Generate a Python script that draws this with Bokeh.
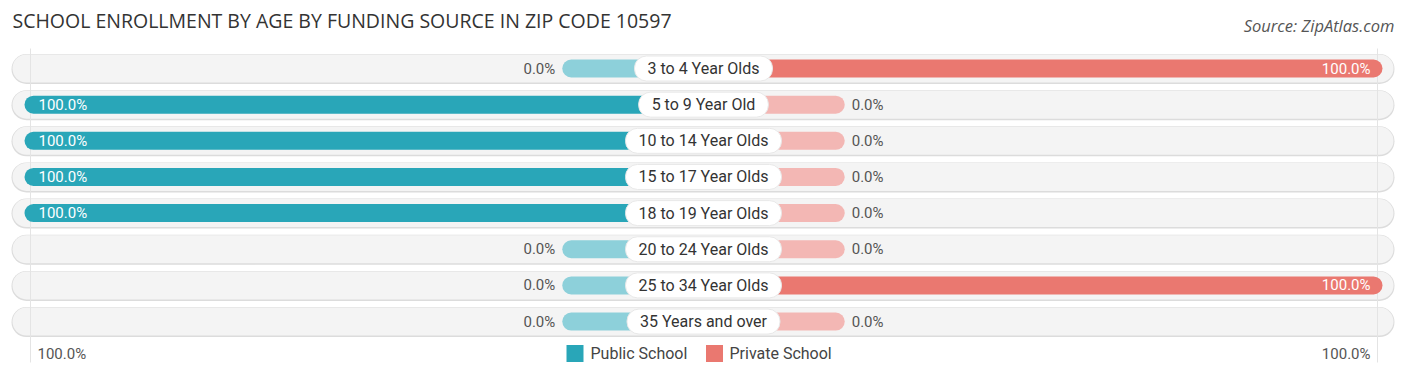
from bokeh.plotting import figure
from bokeh.models import Range1d, ColumnDataSource
from bokeh.core.properties import value
from bokeh.embed import file_html
from bokeh.resources import INLINE

# ---------------- data ----------------
categories = ["3 to 4 Year Olds", "5 to 9 Year Old", "10 to 14 Year Olds",
              "15 to 17 Year Olds", "18 to 19 Year Olds", "20 to 24 Year Olds",
              "25 to 34 Year Olds", "35 Years and over"]
public_school = [0.0, 100.0, 100.0, 100.0, 100.0, 0.0, 0.0, 0.0]
private_school = [100.0, 0.0, 0.0, 0.0, 0.0, 0.0, 100.0, 0.0]
title_text = "SCHOOL ENROLLMENT BY AGE BY FUNDING SOURCE IN ZIP CODE 10597"
source_text = "Source: ZipAtlas.com"
legend_labels = ["Public School", "Private School"]
axis_label = "100.0%"

# ---------------- style / layout ----------------
W, H = 1406, 377
CENTER_PX = 703.0          # px of the zero line
PX_PER_PCT = 6.79          # pixels per percent
STUB = 20.8                # minimal display length for zero values (%)
PUB_DARK, PUB_LIGHT = "#29a6b8", "#8dd0da"
PRI_DARK, PRI_LIGHT = "#ea7870", "#f3b7b4"
FONT = "Roboto"
TFONT = "Open Sans"
ROW0, ROW_STEP = 68.0, 36.15
BAR_W, TRACK_W = 18, 28


def px2x(px):
    return (px - CENTER_PX) / PX_PER_PCT


def pxlen(px):
    return px / PX_PER_PCT


p = figure(width=W, height=H, x_range=Range1d(px2x(0), px2x(W)), y_range=Range1d(H, 0),
           output_backend="svg", toolbar_location=None, min_border=0)
p.axis.visible = False
p.grid.visible = False
p.outline_line_color = None
p.background_fill_color = "white"
p.border_fill_color = "white"

n = len(categories)
ys = [ROW0 + i * ROW_STEP for i in range(n)]

# tracks
tl, tr = px2x(12 + TRACK_W / 2), px2x(1393 - TRACK_W / 2)
p.segment(x0=[tl] * n, x1=[tr] * n, y0=[y + 0.5 for y in ys], y1=[y + 0.5 for y in ys],
          line_width=TRACK_W + 2, line_color="#dcdcdc", line_cap="round")
p.segment(x0=[tl] * n, x1=[tr] * n, y0=ys, y1=ys, line_width=TRACK_W,
          line_color="#f4f4f4", line_cap="round")

# faint grid lines
for gx in (px2x(30), px2x(1377)):
    p.segment(x0=[gx], x1=[gx], y0=[48], y1=[362], line_color="#e4e4e4", line_width=1)

cap = pxlen(BAR_W / 2)
pub_disp = [max(v, STUB) for v in public_school]
pri_disp = [max(v, STUB) for v in private_school]
pub_col = [PUB_DARK if v > 0 else PUB_LIGHT for v in public_school]
pri_col = [PRI_DARK if v > 0 else PRI_LIGHT for v in private_school]

src = ColumnDataSource(dict(
    y=ys, cat=categories,
    pub_end=[-d + cap for d in pub_disp], pri_end=[d - cap for d in pri_disp],
    zero=[0.0] * n, pub_col=pub_col, pri_col=pri_col,
))
p.segment(x0="zero", x1="pub_end", y0="y", y1="y", line_width=BAR_W,
          line_color="pub_col", line_cap="round", source=src)
p.segment(x0="zero", x1="pri_end", y0="y", y1="y", line_width=BAR_W,
          line_color="pri_col", line_cap="round", source=src)

# value labels
VSIZE = "15px"
for i in range(n):
    v = public_school[i]
    if v > 0:
        p.text(x=[-pub_disp[i] + pxlen(14)], y=[ys[i]], text=[f"{v:.1f}%"],
               text_font=value(FONT), text_font_size=VSIZE, text_color="white",
               text_align="left", text_baseline="middle")
    else:
        p.text(x=[-pub_disp[i] - pxlen(7)], y=[ys[i]], text=[f"{v:.1f}%"],
               text_font=value(FONT), text_font_size=VSIZE, text_color="#555555",
               text_align="right", text_baseline="middle")
    v = private_school[i]
    if v > 0:
        p.text(x=[pri_disp[i] - pxlen(12)], y=[ys[i]], text=[f"{v:.1f}%"],
               text_font=value(FONT), text_font_size=VSIZE, text_color="white",
               text_align="right", text_baseline="middle")
    else:
        p.text(x=[pri_disp[i] + pxlen(7)], y=[ys[i]], text=[f"{v:.1f}%"],
               text_font=value(FONT), text_font_size=VSIZE, text_color="#555555",
               text_align="left", text_baseline="middle")

# category labels (pill)
p.text(x="zero", y="y", text="cat", source=src, text_font=value(FONT),
       text_font_size="16px", text_color="#333333", text_align="center",
       text_baseline="middle", background_fill_color="white",
       border_line_color="#e8e8e8", padding=(13, 3), border_radius=12)

# title & source
p.text(x=[px2x(12)], y=[20], text=[title_text], text_font=value(TFONT),
       text_font_size="19.5px", text_color="#333333", text_align="left",
       text_baseline="middle")
p.text(x=[px2x(1394)], y=[25], text=[source_text], text_font=value(TFONT),
       text_font_size="16.5px", text_font_style="italic", text_color="#555555",
       text_align="right", text_baseline="middle")

# bottom axis labels
p.text(x=[-100 + pxlen(13)], y=[353], text=[axis_label], text_font=value(FONT),
       text_font_size=VSIZE, text_color="#555555", text_align="left",
       text_baseline="middle")
p.text(x=[100 - pxlen(12)], y=[353], text=[axis_label], text_font=value(FONT),
       text_font_size=VSIZE, text_color="#555555", text_align="right",
       text_baseline="middle")

# legend
p.scatter(x=[px2x(574.5), px2x(714)], y=[353, 353], marker="square", size=17,
          fill_color=[PUB_DARK, PRI_DARK], line_color=None)
p.text(x=[px2x(590), px2x(729)], y=[353, 353], text=legend_labels,
       text_font=value(FONT), text_font_size="16px", text_color="#444444",
       text_align="left", text_baseline="middle")

open("out.html", "w").write(file_html(p, INLINE))
